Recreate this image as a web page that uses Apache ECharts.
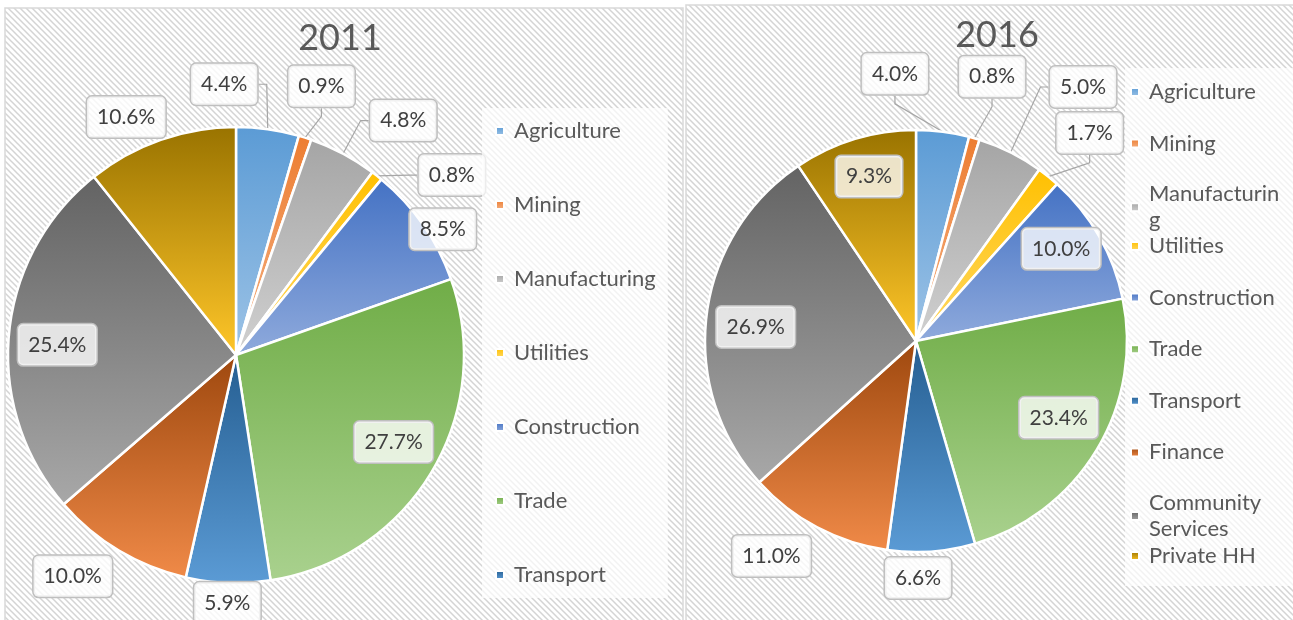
<!DOCTYPE html>
<html>
<head>
<meta charset="utf-8">
<title>Sector shares 2011 / 2016</title>
<script src="https://cdn.jsdelivr.net/npm/echarts@6/dist/echarts.min.js"></script>
<style>
  html, body { margin: 0; padding: 0; background: #fff; }
  #chart { width: 1293px; height: 620px; }
</style>
</head>
<body>
<div id="chart"></div>
<script>
var categories = ['Agriculture', 'Mining', 'Manufacturing', 'Utilities', 'Construction',
  'Trade', 'Transport', 'Finance', 'Community Services', 'Private HH'];
var share2011 = [4.4, 0.9, 4.8, 0.8, 8.5, 27.7, 5.9, 10.0, 25.4, 10.6];
var share2016 = [4.0, 0.8, 5.0, 1.7, 10.0, 23.4, 6.6, 11.0, 26.9, 9.3];
var years = ['2011', '2016'];
// the 2011 legend box only had room for the first seven entries
var legend2011 = categories.slice(0, 7);

// gradient of each slice, top -> bottom
var palette = [
  ['#5B9BD5', '#9DC3E6'], ['#ED7D31', '#F4B183'], ['#A5A5A5', '#D0D0D0'],
  ['#FFC000', '#FFD966'], ['#4472C4', '#8FAADC'], ['#70AD47', '#A9D18E'],
  ['#255E91', '#5B9BD5'], ['#9E480E', '#F08A48'], ['#636363', '#A8A8A8'],
  ['#997300', '#FFC629']
];

// label placement: [turn from the slice middle (deg), distance from rim (px)]
var labelPos2011 = [[-10.5, 43], [0, 54], [7.5, 60], [12, 53], [3.6, 14],
  [-2, -48], [0, 20], [5.5, 47], [-2, -49], [-5.5, 34]];
var labelPos2016 = [[-11.8, 57], [0, 64], [6.7, 93], [1, 60], [-2.6, -39],
  [-2.8, -49], [3.7, 26], [6, 48], [-2, -50], [1, -40]];
var leaders = [true, true, true, true, false, false, false, false, false, false];

// wrapped legend names overflow into the gap below, so the 2016 legend is
// split after each wrapped entry to keep the rows evenly spaced
var legendWrap = { 'Manufacturing': 'Manufacturin\ng', 'Community Services': 'Community\nServices' };
var legend2016Parts = [categories.slice(0, 3), categories.slice(3, 9), categories.slice(9)];
var legend2016Tops = [80, 234, 544];

function hatch() {
  var c = document.createElement('canvas');
  c.width = 6; c.height = 6;
  var g = c.getContext('2d');
  g.fillStyle = '#ffffff';
  g.fillRect(0, 0, 6, 6);
  g.strokeStyle = '#d4d4d4';
  g.lineWidth = 1.5;
  g.beginPath();
  g.moveTo(-1, -1); g.lineTo(7, 7);
  g.moveTo(-1, 5); g.lineTo(1, 7);
  g.moveTo(5, -1); g.lineTo(7, 1);
  g.stroke();
  return c;
}

function labelPlacer(values, cx, cy, r, pos) {
  var total = values.reduce(function (a, b) { return a + b; }, 0);
  var mids = [], acc = 0;
  values.forEach(function (v) {
    mids.push((acc + v / 2) / total * 360);
    acc += v;
  });
  return function (p) {
    var i = p.dataIndex;
    var a = (mids[i] + pos[i][0]) * Math.PI / 180;
    var d = r + pos[i][1];
    return { x: cx + d * Math.sin(a), y: cy - d * Math.cos(a), align: 'center', verticalAlign: 'middle' };
  };
}

function pieSeries(year, values, cx, cy, r, pos) {
  return {
    type: 'pie',
    name: year,
    center: [cx, cy],
    radius: r,
    startAngle: 90,
    clockwise: true,
    avoidLabelOverlap: false,
    animation: false,
    itemStyle: { borderColor: '#ffffff', borderWidth: 2.5 },
    emphasis: { scale: false },
    label: {
      show: true,
      position: 'outside',
      formatter: function (p) { return p.value.toFixed(1) + '%'; },
      fontFamily: 'Lato',
      fontSize: 21,
      lineHeight: 23,
      color: '#404040',
      backgroundColor: 'rgba(255,255,255,0.78)',
      borderColor: '#bfbfbf',
      borderWidth: 1.5,
      borderRadius: 5,
      padding: [9, 10, 9, 10]
    },
    labelLine: { show: true, length: 10, length2: 8, lineStyle: { color: '#a6a6a6', width: 1.2 } },
    labelLayout: labelPlacer(values, cx, cy, r, pos),
    data: categories.map(function (name, i) {
      return {
        name: name,
        value: values[i],
        itemStyle: {
          color: new echarts.graphic.LinearGradient(0, 0, 0, 1, [
            { offset: 0, color: palette[i][0] },
            { offset: 1, color: palette[i][1] }
          ])
        },
        labelLine: { show: leaders[i] }
      };
    })
  };
}

var titleText = { fontFamily: 'Lato', fontSize: 36, fontWeight: 'normal', color: '#595959' };
var bg = { type: 'pattern', image: hatch(), repeat: 'repeat' };

var legends = [{
  data: legend2011,
  orient: 'vertical', left: 482, top: 108,
  icon: 'rect', itemWidth: 8, itemHeight: 8, itemGap: 50,
  padding: [11, 12, 11, 13],
  backgroundColor: 'rgba(255,255,255,0.7)',
  selectedMode: false,
  textStyle: { fontFamily: 'Lato', fontSize: 22, color: '#595959', lineHeight: 24, padding: [0, 0, 0, 5] }
}];
legend2016Parts.forEach(function (names, k) {
  legends.push({
    data: names,
    orient: 'vertical', left: 1130, top: legend2016Tops[k],
    icon: 'rect', itemWidth: 8, itemHeight: 8, itemGap: 27.6,
    padding: 0,
    selectedMode: false,
    formatter: function (name) { return legendWrap[name] || name; },
    textStyle: { fontFamily: 'Lato', fontSize: 22, color: '#595959', lineHeight: 26, height: 24, padding: [0, 0, 0, 5] }
  });
});

var myChart = echarts.init(document.getElementById('chart'));
myChart.setOption({
  backgroundColor: '#ffffff',
  graphic: [
    { type: 'rect', z: -10, shape: { x: 5, y: 8, width: 678, height: 640 },
      style: { fill: bg, stroke: '#d9d9d9', lineWidth: 1.5 } },
    { type: 'rect', z: -10, shape: { x: 686, y: 5, width: 640, height: 640 },
      style: { fill: bg, stroke: '#d9d9d9', lineWidth: 1.5 } },
    // backing of the 2016 legend
    { type: 'rect', z: -9, shape: { x: 1125, y: 68, width: 168, height: 518 },
      style: { fill: 'rgba(255,255,255,0.7)' } }
  ],
  title: [
    { text: years[0], left: 340, top: 20, textAlign: 'center', padding: 0, textStyle: titleText },
    { text: years[1], left: 997, top: 17, textAlign: 'center', padding: 0, textStyle: titleText }
  ],
  legend: legends,
  series: [
    pieSeries(years[0], share2011, 236, 355, 228, labelPos2011),
    pieSeries(years[1], share2016, 916, 341, 211, labelPos2016)
  ]
});
window.addEventListener('resize', function () {
  myChart.resize();
});
</script>
</body>
</html>
